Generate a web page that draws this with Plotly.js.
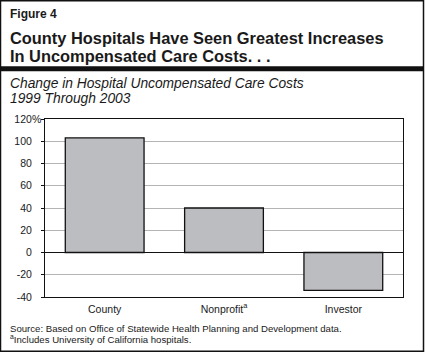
<!DOCTYPE html>
<html>
<head>
<meta charset="utf-8">
<script src="https://cdn.plot.ly/plotly-3.0.1.min.js"></script>
<style>html,body{margin:0;padding:0;background:#fff;}#chart{width:425px;height:354px;}</style>
</head>
<body>
<div id="chart"></div>
<script>
// ---- data ----
const categories = ["County", "Nonprofit<sup>a</sup>", "Investor"];
const changePct = [103, 40, -34];
const yTickVals = [-40, -20, 0, 20, 40, 60, 80, 100, 120];
const yTickText = ["-40", "-20", "0", "20", "40", "60", "80", "100", "120"];
const figureLabel = "Figure 4";
const titleLines = ["County Hospitals Have Seen Greatest Increases", "In Uncompensated Care Costs. . ."];
const subtitleLines = ["Change in Hospital Uncompensated Care Costs", "1999 Through 2003"];
const footnotes = ["Source: Based on Office of Statewide Health Planning and Development data.", "<sup>a</sup>Includes University of California hospitals."];

// ---- layout helpers (pixel -> paper) ----
const W = 425, H = 354;
const L = 45, R = 403, T = 118.5, B = 297;
const px = x => (x - L) / (R - L);
const py = y => (B - y) / (B - T);
const FONT = "Liberation Sans, Arial, Helvetica, sans-serif";
const INK = "#1a1a1a";

function ann(text, x, y, size, opts) {
  return Object.assign({
    text: text, xref: "paper", yref: "paper", x: px(x), y: py(y),
    xanchor: "left", yanchor: "middle", showarrow: false,
    font: {family: FONT, size: size, color: INK}
  }, opts || {});
}

const annotations = [
  ann("<b>" + figureLabel + "</b>", 8, 13.5, 12),
  ann("<b>" + titleLines[0] + "</b>", 8, 37, 16.4),
  ann("<b>" + titleLines[1] + "</b>", 8, 55, 16.4),
  ann("<i>" + subtitleLines[0] + "</i>", 8, 82.5, 13.8),
  ann("<i>" + subtitleLines[1] + "</i>", 8, 98, 13.8),
  ann(footnotes[0], 8, 328.5, 9.6),
  ann(footnotes[1], 8, 339.5, 9.6),
  {text: "%", xref: "paper", yref: "y", x: px(29.5), y: 120, xanchor: "left", yanchor: "middle",
   showarrow: false, font: {family: FONT, size: 10.5, color: INK}}
];

const shapes = [
  {type: "rect", xref: "paper", yref: "paper", x0: px(0.5), x1: px(423.5), y0: py(0), y1: py(351.5),
   line: {color: "#111", width: 1.5}, fillcolor: "rgba(0,0,0,0)"},
  {type: "rect", xref: "paper", yref: "paper", x0: px(0.5), x1: px(423.5), y0: py(65.5), y1: py(70.5),
   line: {width: 0}, fillcolor: "#111"}
];

const trace = {
  type: "bar", x: categories, y: changePct,
  marker: {color: "#bcbdc0", line: {color: "#111", width: 1.3}},
  hoverinfo: "skip"
};

const layout = {
  width: W, height: H,
  margin: {l: L, r: W - R, t: T, b: H - B, pad: 0},
  paper_bgcolor: "#fff", plot_bgcolor: "#fff",
  showlegend: false,
  bargap: 0.34,
  font: {family: FONT, color: INK},
  xaxis: {
    showline: true, linecolor: "#111", linewidth: 1, mirror: true,
    ticks: "", showgrid: false, ticklabelstandoff: 2,
    tickfont: {family: FONT, size: 10.5, color: INK}, fixedrange: true
  },
  yaxis: {
    range: [-40, 120], tickvals: yTickVals, ticktext: yTickText,
    showline: true, linecolor: "#111", linewidth: 1, mirror: true,
    ticks: "outside", ticklen: 3, tickcolor: "#111", tickwidth: 1,
    ticklabelstandoff: 7,
    showgrid: true, gridcolor: "#b4b4b4", gridwidth: 1,
    zeroline: true, zerolinecolor: "#111", zerolinewidth: 1,
    tickfont: {family: FONT, size: 10.5, color: INK}, fixedrange: true
  },
  annotations: annotations,
  shapes: shapes
};

Plotly.newPlot("chart", [trace], layout, {displayModeBar: false, staticPlot: true});
</script>
</body>
</html>
